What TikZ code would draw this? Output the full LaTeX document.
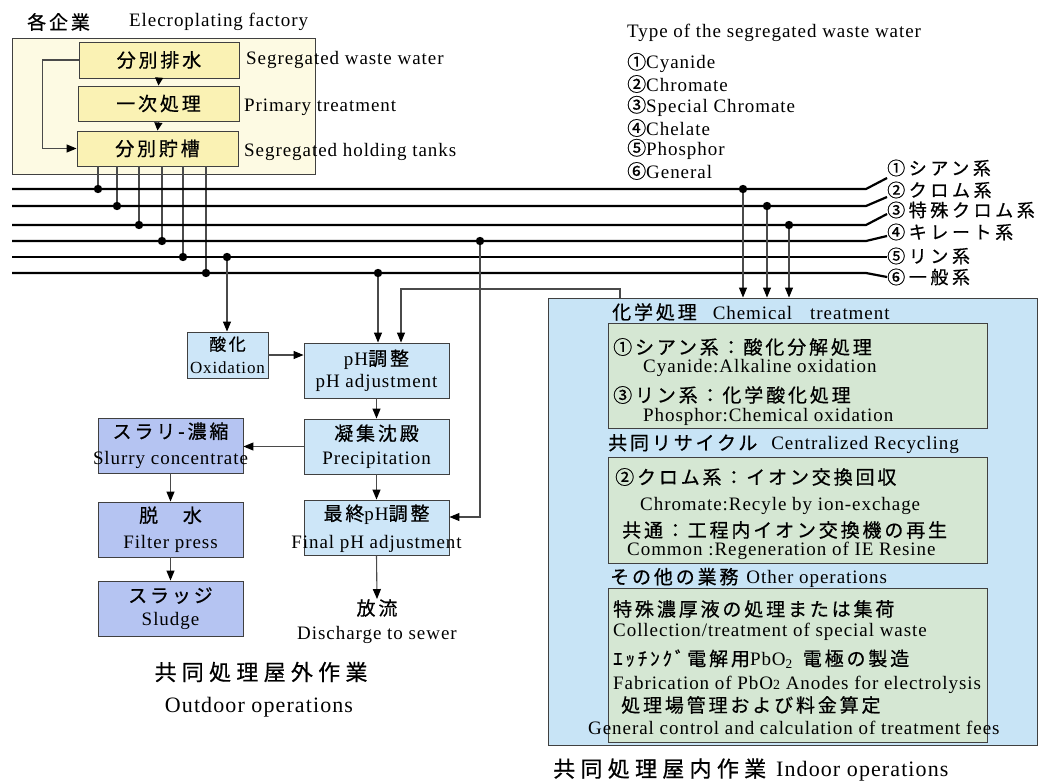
\documentclass[tikz,border=0pt]{standalone}
\usepackage{fontspec}
\setmainfont[LetterSpace=5]{Liberation Serif}
\newfontfamily\jp[LetterSpace=15,FakeBold=0.6]{Noto Sans CJK JP}
\newfontfamily\jpl[LetterSpace=20,FakeBold=0.6]{Noto Sans CJK JP}
\newfontfamily\jpc[LetterSpace=24,FakeBold=0.6]{Noto Sans CJK JP}
\usetikzlibrary{arrows.meta,calc}
\definecolor{facbg}{HTML}{FDFAE3}
\definecolor{facbox}{HTML}{FAF2B4}
\definecolor{flowblue}{HTML}{CDE6F8}
\definecolor{purp}{HTML}{B5C4F2}
\definecolor{bigblue}{HTML}{C8E4F6}
\definecolor{greenbox}{HTML}{D5E7D3}
\definecolor{edge}{HTML}{404040}
\definecolor{wire}{HTML}{4A4A4A}
\begin{document}
\begin{tikzpicture}[x=1pt,y=-1pt,font=\fontsize{19}{24}\selectfont,
  fbox/.style={draw=edge,line width=0.9pt,fill=facbox,inner sep=0pt},
  bbox/.style={draw=edge,line width=0.9pt,fill=flowblue,inner sep=0pt},
  pbox/.style={draw=edge,line width=0.9pt,fill=purp,inner sep=0pt},
  gbox/.style={draw=edge,line width=0.9pt,fill=greenbox,inner sep=0pt},
  txt/.style={inner sep=0pt,align=center},
  lbl/.style={inner sep=0pt,anchor=west},
  bus/.style={line width=2.2pt,draw=black},
  wireline/.style={line width=1.1pt,draw=wire},
  arr/.style={wireline,-{Triangle[length=10pt,width=8pt,color=black]}},
  sarr/.style={wireline,-{Triangle[length=8pt,width=8pt,color=black]}},
  dotc/.style={fill=black}]
\useasboundingbox (0,0) rectangle (1043,781);

% ---------- factory ----------
\node[lbl] (facJ) at (27,22) {\jp 各企業};
\node[lbl] (facE) at (129,22) {Elecroplating factory};
\node[draw=edge,fill=facbg,line width=0.8pt,inner sep=0pt,minimum width=303pt,minimum height=136pt] (fac) at (163.5,106) {};
\node[fbox,minimum width=160pt,minimum height=36pt] (b1) at (159,60) {};
\node[txt] at (b1) {\jp 分別排水};
\node[fbox,minimum width=161pt,minimum height=35pt] (b2) at (158.5,103.5) {};
\node[txt] at (b2) {\jp 一次処理};
\node[fbox,minimum width=161pt,minimum height=35pt] (b3) at (157.5,148.5) {};
\node[txt] at (b3) {\jp 分別貯槽};
\node[lbl] (s1) at (246,60) {Segregated waste water};
\node[lbl] (s2) at (244,107) {Primary treatment};
\node[lbl] (s3) at (244,152) {Segregated holding tanks};
\draw[sarr] (b1.south) -- (b2.north);
\draw[sarr] (b2.south) -- (b3.north);
\draw[arr] (b1.west) -- ++(-36,0) |- (b3.west);

% ---------- legend ----------
\node[lbl] (tp) at (627,33) {Type of the segregated waste water};
\node[lbl] (t1) at (627,63) {{\jp ①}Cyanide};
\node[lbl] (t2) at (627,84) {{\jp ②}Chromate};
\node[lbl] (t3) at (627,106) {{\jp ③}Special Chromate};
\node[lbl] (t4) at (627,128) {{\jp ④}Chelate};
\node[lbl] (t5) at (627,149) {{\jp ⑤}Phosphor};
\node[lbl] (t6) at (627,171) {{\jp ⑥}General};

% ---------- right labels ----------
\begin{scope}[font=\fontsize{18}{20}\selectfont]
\node[lbl] (r1) at (887,168) {\jpl ①シアン系};
\node[lbl] (r2) at (887,190) {\jpl ②クロム系};
\node[lbl] (r3) at (887,210) {\jpl ③特殊クロム系};
\node[lbl] (r4) at (887,232) {\jpl ④キレート系};
\node[lbl] (r5) at (887,256) {\jpl ⑤リン系};
\node[lbl] (r6) at (887,277) {\jpl ⑥一般系};
\end{scope}

% ---------- bus lines ----------
\coordinate (L1) at (12,189); \coordinate (E1) at (866,189);
\coordinate (L2) at (12,206); \coordinate (E2) at (866,206);
\coordinate (L3) at (12,225); \coordinate (E3) at (866,225);
\coordinate (L4) at (12,241); \coordinate (E4) at (866,241);
\coordinate (L5) at (12,257); \coordinate (E5) at (866,257);
\coordinate (L6) at (12,273); \coordinate (E6) at (866,273);

\coordinate (d1) at (98,189);
\coordinate (d2) at (117,206);
\coordinate (d3) at (139,225);
\coordinate (d4) at (162,241);
\coordinate (d5) at (183,257);
\coordinate (d6) at (206,273);
\foreach \i in {1,...,6} \draw[wireline] (d\i |- b3.south) -- (d\i);

\draw[bus] (L1) -- (E1) -- ($(r1.west)+(0,10)$);
\draw[bus] (L2) -- (E2) -- ($(r2.west)+(0,7)$);
\draw[bus] (L3) -- (E3) -- ($(r3.west)+(0,4)$);
\draw[bus] (L4) -- (E4) -- ($(r4.west)+(0,4)$);
\draw[bus] (L5) -- (E5) -- ($(r5.west)+(0,1)$);
\draw[bus] (L6) -- (E6) -- ($(r6.west)+(0,0)$);

% ---------- flow boxes ----------
\node[bbox,minimum width=81pt,minimum height=46pt] (ox) at (227.5,355) {};
\node[txt,font=\fontsize{17}{23}\selectfont] at (ox) {{\jp 酸化}\\Oxidation};
\node[bbox,minimum width=145pt,minimum height=55pt] (ph) at (376.5,370.5) {};
\node[txt,font=\fontsize{19}{22}\selectfont] at (ph) {pH{\jp 調整}\\pH adjustment};
\node[bbox,minimum width=145pt,minimum height=55pt] (ppt) at (376.5,446.5) {};
\node[txt] at (ppt) {{\jp 凝集沈殿}\\Precipitation};
\node[bbox,minimum width=145pt,minimum height=55pt] (fin) at (376.5,527.5) {};
\node[txt,font=\fontsize{19}{28}\selectfont] at ([yshift=-1pt]fin.center) {{\jp 最終}pH{\jp 調整}\\Final pH adjustment};
\node[pbox,minimum width=145pt,minimum height=55pt] (sl) at (170.5,445.5) {};
\node[txt,font=\fontsize{19}{26}\selectfont] at (sl) {{\jp スラリ-濃縮}\\Slurry concentrate};
\node[pbox,minimum width=145pt,minimum height=55pt] (dw) at (170.5,529.5) {};
\node[txt,font=\fontsize{19}{26}\selectfont] at (dw) {{\jp 脱　水}\\Filter press};
\node[pbox,minimum width=145pt,minimum height=55pt] (sg) at (170.5,608.5) {};
\node[txt,font=\fontsize{19}{23}\selectfont] at (sg) {{\jp スラッジ}\\Sludge};

\node[txt] (dis) at (377,608) {\jp 放流};
\node[txt] (dis2) at (377,635) {Discharge to sewer};

\node[txt,font=\fontsize{22}{26}\selectfont] (outJ) at (261,672) {\jpc 共同処理屋外作業};
\node[txt,font=\fontsize{22}{26}\selectfont] (outE) at (259,707) {Outdoor operations};

% ---------- indoor ----------
\node[draw=edge,line width=0.9pt,fill=bigblue,inner sep=0pt,minimum width=489pt,minimum height=447pt] (big) at (792.5,521.5) {};
\node[gbox,minimum width=379pt,minimum height=105pt] (g1) at (797.5,375.5) {};
\node[gbox,minimum width=379pt,minimum height=106pt] (g2) at (797.5,510) {};
\node[gbox,minimum width=379pt,minimum height=154pt] (g3) at (797.5,665) {};

\node[lbl] (h1) at (612,312) {{\jp 化学処理}\hspace{16pt}Chemical\hspace{18pt}treatment};
\node[lbl] (c1) at (613,347) {\jp ①シアン系：酸化分解処理};
\node[lbl] (c2) at (643,368) {Cyanide:Alkaline oxidation};
\node[lbl] (c3) at (613,395) {\jp ③リン系：化学酸化処理};
\node[lbl] (c4) at (643,417) {Phosphor:Chemical oxidation};

\node[lbl] (h2) at (608,444) {{\jp 共同リサイクル}\hspace{14pt}Centralized Recycling};
\node[lbl] (k1) at (615,477) {\jp ②クロム系：イオン交換回収};
\node[lbl] (k2) at (640,506) {Chromate:Recyle by ion-exchage};
\node[lbl] (k3) at (622,530) {\jp 共通：工程内イオン交換機の再生};
\node[lbl] (k4) at (627,551) {Common :Regeneration of IE Resine};

\node[lbl] (h3) at (610,578) {{\jp その他の業務}\hspace{8pt}Other operations};
\node[lbl] (o1) at (613,609) {\jp 特殊濃厚液の処理または集荷};
\node[lbl] (o2) at (613,632) {Collection/treatment of special waste};
\node[lbl] (o3) at (613,659) {{\jp ｴｯﾁﾝｸﾞ電解用}PbO\textsubscript{2}\hspace{10pt}{\jp 電極の製造}};
\node[lbl] (o4) at (613,685) {Fabrication of PbO{\fontsize{14}{14}\selectfont 2} Anodes for electrolysis};
\node[lbl] (o5) at (621,705) {\jp 処理場管理および料金算定};
\node[lbl] (o6) at (588,728) {General control and calculation of treatment fees};

\node[lbl,font=\fontsize{22}{26}\selectfont] (inJ) at (553,770) {{\jpc 共同処理屋内作業}\hspace{10pt}Indoor operations};

% ---------- feeds ----------
\coordinate (p4) at (480,241);
\coordinate (p5) at (227,257);
\coordinate (p6) at (378,273);
\coordinate (q1) at (743,189);
\coordinate (q2) at (767,206);
\coordinate (q3) at (789,225);
\coordinate (rt) at (620,289);
\coordinate (rx) at (401,289);

\draw[arr] (p5) -- (p5 |- ox.north);
\draw[arr] (p6) -- (p6 |- ph.north);
\draw[arr] (p4) |- ($(fin.east)+(0,-10.5)$);
\draw[arr] (rt |- big.north) -- (rt) -- (rx) -- (rx |- ph.north);
\draw[arr] (q1) -- (q1 |- big.north);
\draw[arr] (q2) -- (q2 |- big.north);
\draw[arr] (q3) -- (q3 |- big.north);

\draw[arr] (ox.east) -- (ox.east -| ph.west);
\draw[arr] (ph.south) -- (ppt.north);
\draw[arr] (ppt.south) -- (fin.north);
\draw[arr] (ppt.west) -- (ppt.west -| sl.east);
\draw[arr] (sl.south) -- (dw.north);
\draw[arr] (dw.south) -- (sg.north);
\draw[arr] (fin.south) -- (dis.north);

% ---------- junction dots ----------
\foreach \c in {d1,d2,d3,d4,d5,d6,p4,p5,p6,q1,q2,q3} \fill[dotc] (\c) circle (4.2pt);
\end{tikzpicture}
\end{document}
